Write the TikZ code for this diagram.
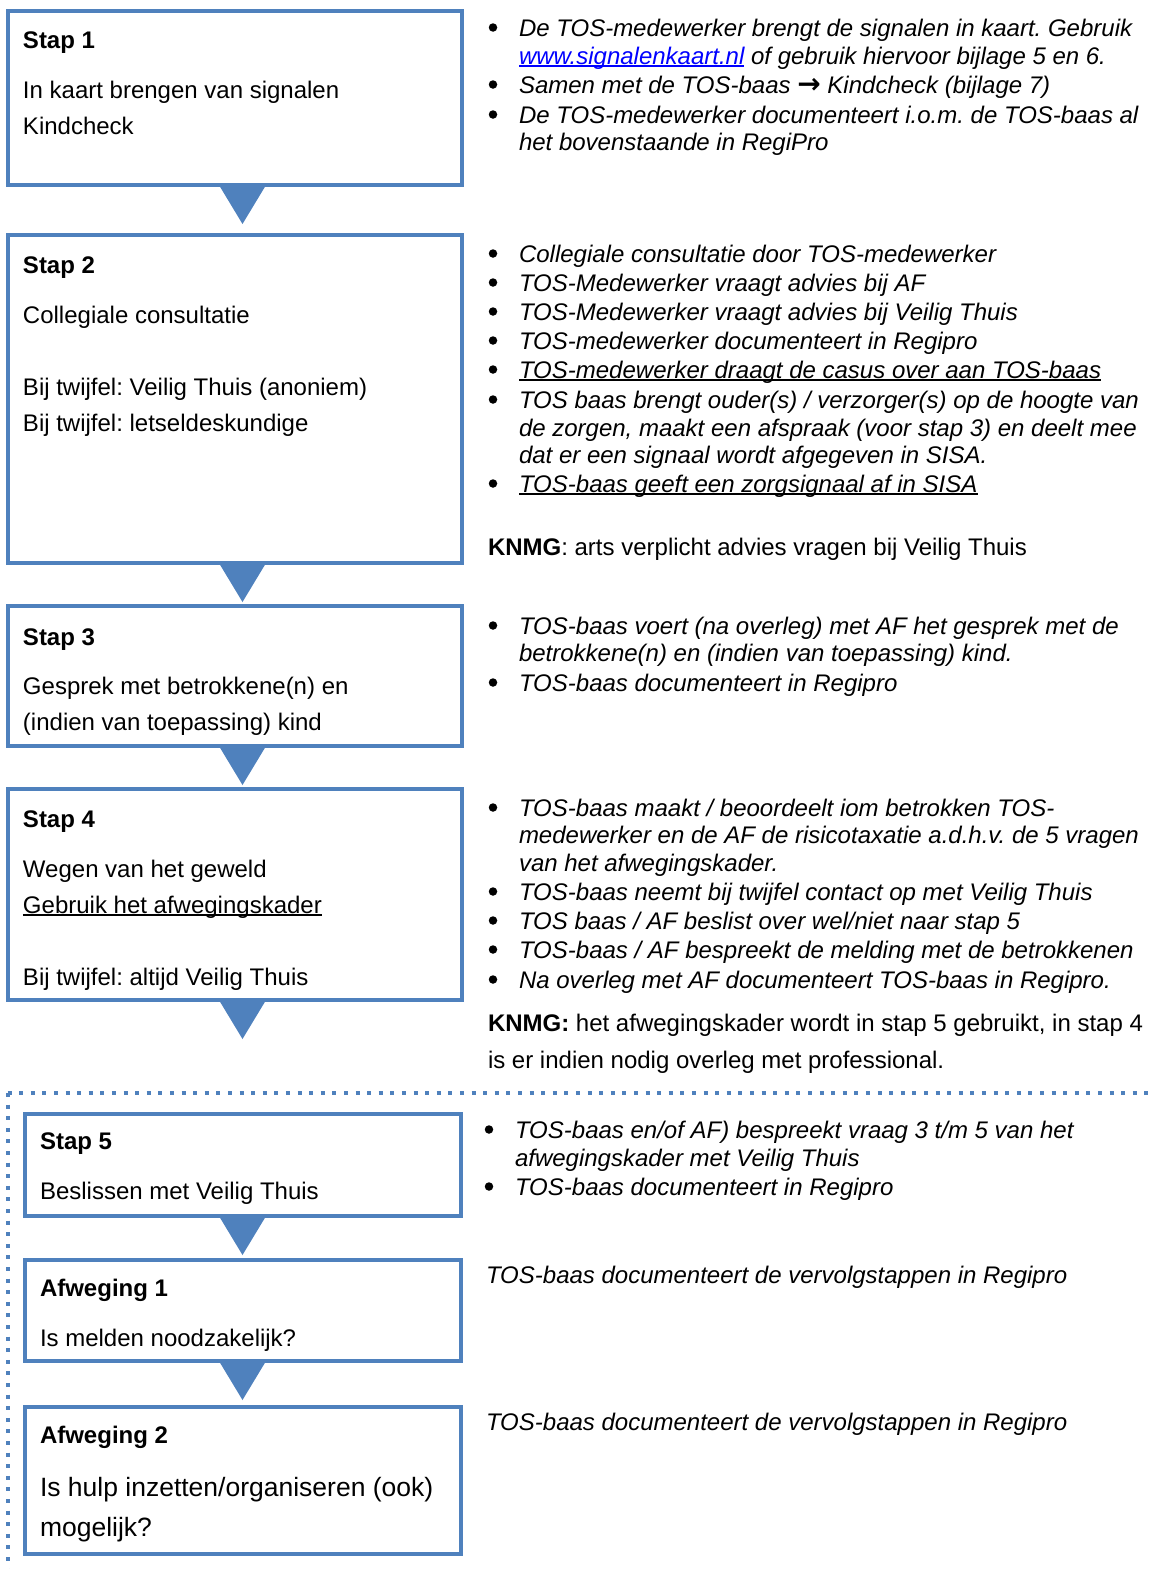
\documentclass[tikz,border=0pt]{standalone}
\usepackage{fontspec}
\setmainfont{Liberation Sans}
\newfontfamily\djv{DejaVu Sans}
\usetikzlibrary{calc}
\definecolor{bx}{HTML}{4F81BD}
\definecolor{lnk}{HTML}{0000FF}
\frenchspacing
\newcommand\myfs{\fontsize{24}{28}\selectfont}
\newsavebox\ulbox
\newcommand\myul[1]{\sbox\ulbox{#1}\rlap{\rule[-3pt]{\wd\ulbox}{1.6pt}}\usebox\ulbox}
\newcommand\bl[4]{\node[bul] (#1b) at (#2,#3-8.5) {};\node[rt] (#1) at (#2+26,#3) {#4};}
\newcommand\rl[3]{\node[rt] (#1) at (519,#2) {#3};}
\begin{document}
\begin{tikzpicture}[x=1pt,y=-1pt,
  box/.style={draw=bx,line width=3.5pt,anchor=north west,inner sep=0pt,outer sep=0pt},
  lt/.style={anchor=base west,inner sep=0pt,outer sep=0pt,font=\myfs},
  ltb/.style={lt,font=\myfs\bfseries},
  rt/.style={lt,font=\myfs\itshape},
  bul/.style={circle,fill=black,minimum size=8.5pt,inner sep=0pt,outer sep=0pt},
  tri/.style={fill=bx},
  dots/.style={draw=bx,line width=4pt,dash pattern=on 4pt off 7.6pt}]
\useasboundingbox (0,0) rectangle (1152,1569);
\coordinate (tx) at (242.5,0);
% boxes
\node[box,minimum width=454pt,minimum height=174pt] (b1) at (8,11) {};
\node[box,minimum width=454pt,minimum height=328pt] (b2) at (8,235) {};
\node[box,minimum width=454pt,minimum height=140pt] (b3) at (8,606) {};
\node[box,minimum width=454pt,minimum height=211pt] (b4) at (8,789) {};
\node[box,minimum width=436pt,minimum height=102pt] (b5) at (25,1114) {};
\node[box,minimum width=436pt,minimum height=101pt] (a1) at (25,1260) {};
\node[box,minimum width=436pt,minimum height=147pt] (a2) at (25,1407) {};
% triangles
\foreach \s/\t in {b1/b2,b2/b3,b3/b4,b5/a1,a1/a2}{
  \fill[tri] ($(\s.south -| tx)+(-22.5,1.75)$) -- ($(\s.south -| tx)+(22.5,1.75)$) -- ($(\s.south -| tx)+(0,39)$) -- cycle;
}
\coordinate (b4end) at ($(b4.south -| tx)+(0,39)$);
\fill[tri] ($(b4.south -| tx)+(-22.5,1.75)$) -- ($(b4.south -| tx)+(22.5,1.75)$) -- (b4end) -- cycle;
% dotted frame
\coordinate (dc) at (7.5,1093);
\coordinate (dr) at (1152,1093);
\coordinate (db) at (7.5,1569);
\draw[dots] (dc) -- (dr);
\draw[dots] (dc) -- (db);
% left texts
\node[ltb] (t1a) at (23,48) {Stap 1};
\node[lt] (t1b) at (23,98) {In kaart brengen van signalen};
\node[lt] (t1c) at (23,134) {Kindcheck};
\node[ltb] (t2a) at (23,273) {Stap 2};
\node[lt] (t2b) at (23,323) {Collegiale consultatie};
\node[lt] (t2c) at (23,395) {Bij twijfel: Veilig Thuis (anoniem)};
\node[lt] (t2d) at (23,431) {Bij twijfel: letseldeskundige};
\node[ltb] (t3a) at (23,645) {Stap 3};
\node[lt] (t3b) at (23,694) {Gesprek met betrokkene(n) en};
\node[lt] (t3c) at (23,730) {(indien van toepassing) kind};
\node[ltb] (t4a) at (23,827) {Stap 4};
\node[lt] (t4b) at (23,877) {Wegen van het geweld};
\node[lt] (t4c) at (23,913) {\myul{Gebruik het afwegingskader}};
\node[lt] (t4d) at (23,985) {Bij twijfel: altijd Veilig Thuis};
\node[ltb] (t5a) at (40,1149) {Stap 5};
\node[lt] (t5b) at (40,1199) {Beslissen met Veilig Thuis};
\node[ltb] (u1a) at (40,1296) {Afweging 1};
\node[lt] (u1b) at (40,1346) {Is melden noodzakelijk?};
\node[ltb] (u2a) at (40,1443) {Afweging 2};
\node[lt,font=\fontsize{26.5}{30}\selectfont] (u2b) at (40,1496) {Is hulp inzetten/organiseren (ook)};
\node[lt,font=\fontsize{26.5}{30}\selectfont] (u2c) at (40,1536) {mogelijk?};
% right column group 1
\bl{r11}{493}{36}{De TOS-medewerker brengt de signalen in kaart. Gebruik}
\rl{r12}{64}{{\color{lnk}\myul{www.signalenkaart.nl}} of gebruik hiervoor bijlage 5 en 6.}
\bl{r13}{493}{93}{Samen met de TOS-baas {\djv\upshape\bfseries\fontsize{28}{24}\selectfont →} Kindcheck (bijlage 7)}
\bl{r14}{493}{123}{De TOS-medewerker documenteert i.o.m. de TOS-baas al}
\rl{r15}{150}{het bovenstaande in RegiPro}
% group 2
\bl{r21}{493}{262}{Collegiale consultatie door TOS-medewerker}
\bl{r22}{493}{291}{TOS-Medewerker vraagt advies bij AF}
\bl{r23}{493}{320}{TOS-Medewerker vraagt advies bij Veilig Thuis}
\bl{r24}{493}{349}{TOS-medewerker documenteert in Regipro}
\bl{r25}{493}{378}{\myul{TOS-medewerker draagt de casus over aan TOS-baas}}
\bl{r26}{493}{408}{TOS baas brengt ouder(s) / verzorger(s) op de hoogte van}
\rl{r27}{436}{de zorgen, maakt een afspraak (voor stap 3) en deelt mee}
\rl{r28}{463}{dat er een signaal wordt afgegeven in SISA.}
\bl{r29}{493}{492}{\myul{TOS-baas geeft een zorgsignaal af in SISA}}
\node[lt] (k1) at (488,555) {\textbf{KNMG}: arts verplicht advies vragen bij Veilig Thuis};
% group 3
\bl{r31}{493}{634}{TOS-baas voert (na overleg) met AF het gesprek met de}
\rl{r32}{661}{betrokkene(n) en (indien van toepassing) kind.}
\bl{r33}{493}{691}{TOS-baas documenteert in Regipro}
% group 4
\bl{r41}{493}{816}{TOS-baas maakt / beoordeelt iom betrokken TOS-}
\rl{r42}{843}{medewerker en de AF de risicotaxatie a.d.h.v. de 5 vragen}
\rl{r43}{871}{van het afwegingskader.}
\bl{r44}{493}{900}{TOS-baas neemt bij twijfel contact op met Veilig Thuis}
\bl{r45}{493}{929}{TOS baas / AF beslist over wel/niet naar stap 5}
\bl{r46}{493}{958}{TOS-baas / AF bespreekt de melding met de betrokkenen}
\bl{r47}{493}{988}{Na overleg met AF documenteert TOS-baas in Regipro.}
\node[lt] (k2) at (488,1031) {\textbf{KNMG:} het afwegingskader wordt in stap 5 gebruikt, in stap 4};
\node[lt] (k3) at (488,1068) {is er indien nodig overleg met professional.};
% group 5
\bl{r51}{489}{1138}{TOS-baas en/of AF) bespreekt vraag 3 t/m 5 van het}
\node[rt] (r52) at (515,1166) {afwegingskader met Veilig Thuis};
\bl{r53}{489}{1195}{TOS-baas documenteert in Regipro}
% afweging notes
\node[rt] (n1) at (486,1283) {TOS-baas documenteert de vervolgstappen in Regipro};
\node[rt] (n2) at (486,1430) {TOS-baas documenteert de vervolgstappen in Regipro};
\end{tikzpicture}
\end{document}
